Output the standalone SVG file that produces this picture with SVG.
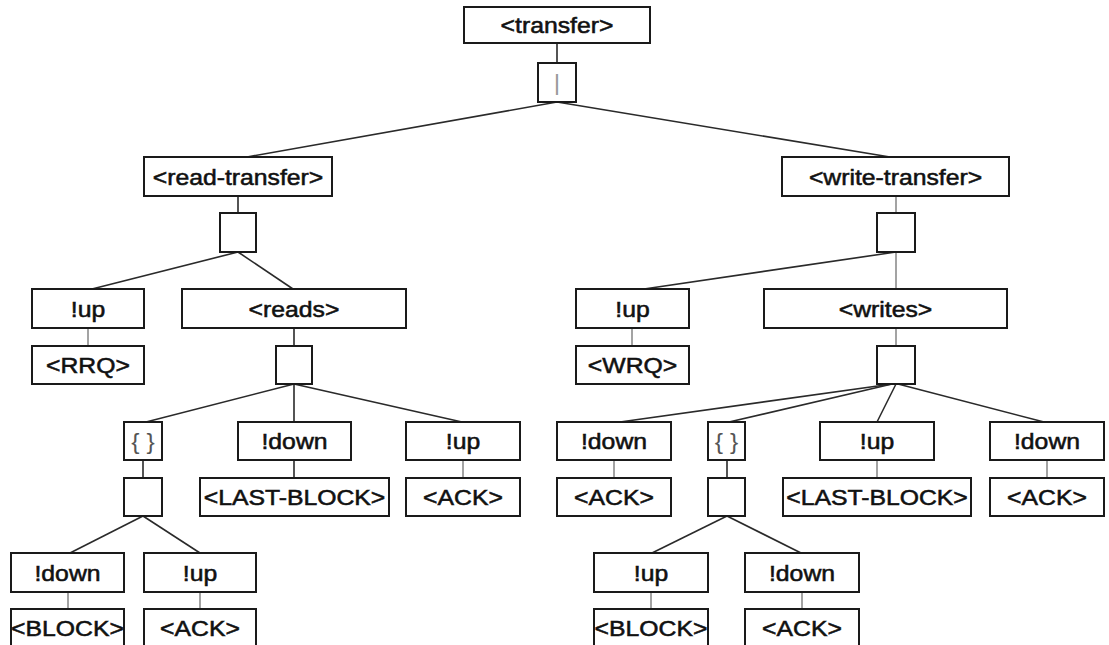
<svg xmlns="http://www.w3.org/2000/svg" width="1109" height="645" viewBox="0 0 1109 645">
<style>
.box{fill:#fff;stroke:#1a1a1a;stroke-width:2}
.t{font-family:"Liberation Sans",Arial,sans-serif;font-size:22.5px;fill:#111;stroke:#111;stroke-width:0.55;text-anchor:middle}
.g{fill:#999;stroke:none}
.b{fill:#555;stroke:none}
.d{stroke:#2a2a2a;stroke-width:1.6;fill:none}
.l{stroke:#999;stroke-width:1.8;fill:none}
</style>
<rect width="1109" height="645" fill="#fff"/>
<g id="connectors">
<line class="d" x1="557" y1="43" x2="557" y2="63"/>
<line class="d" x1="557" y1="102" x2="247" y2="157"/>
<line class="d" x1="557" y1="102" x2="890" y2="157"/>
<line class="d" x1="238" y1="196" x2="238" y2="213"/>
<line class="d" x1="238" y1="252" x2="92" y2="289"/>
<line class="d" x1="238" y1="252" x2="293" y2="289"/>
<line class="l" x1="88" y1="328" x2="88" y2="346"/>
<line class="d" x1="294" y1="328" x2="294" y2="346"/>
<line class="d" x1="294" y1="384" x2="146" y2="422"/>
<line class="d" x1="294" y1="384" x2="294" y2="422"/>
<line class="d" x1="294" y1="384" x2="462" y2="422"/>
<line class="d" x1="143" y1="460" x2="143" y2="478"/>
<line class="d" x1="294" y1="460" x2="294" y2="478"/>
<line class="l" x1="463" y1="460" x2="463" y2="478"/>
<line class="d" x1="143" y1="516" x2="70" y2="553"/>
<line class="d" x1="143" y1="516" x2="200" y2="553"/>
<line class="l" x1="68" y1="592" x2="68" y2="609"/>
<line class="l" x1="200" y1="592" x2="200" y2="609"/>
<line class="l" x1="896" y1="196" x2="896" y2="213"/>
<line class="d" x1="896" y1="252" x2="644" y2="289"/>
<line class="l" x1="896" y1="252" x2="896" y2="289"/>
<line class="l" x1="632" y1="328" x2="632" y2="346"/>
<line class="l" x1="896" y1="328" x2="896" y2="346"/>
<line class="d" x1="892" y1="384" x2="620" y2="422"/>
<line class="d" x1="892" y1="384" x2="729" y2="422"/>
<line class="d" x1="896" y1="384" x2="877" y2="422"/>
<line class="d" x1="898" y1="384" x2="1044" y2="422"/>
<line class="l" x1="614" y1="460" x2="614" y2="478"/>
<line class="d" x1="727" y1="460" x2="727" y2="478"/>
<line class="l" x1="877" y1="460" x2="877" y2="478"/>
<line class="l" x1="1047" y1="460" x2="1047" y2="478"/>
<line class="d" x1="727" y1="516" x2="652" y2="553"/>
<line class="d" x1="727" y1="516" x2="801" y2="553"/>
<line class="l" x1="651" y1="592" x2="651" y2="609"/>
<line class="l" x1="802" y1="592" x2="802" y2="609"/>
</g>
<g id="transfer"><rect class="box" x="464" y="7" width="186" height="36"/><text class="t" transform="translate(557,33) scale(1.1,1)">&lt;transfer&gt;</text></g>
<g id="alt"><rect class="box" x="538" y="63" width="38" height="39"/><text class="t g" transform="translate(557,90) scale(1.1,1)">|</text></g>
<g id="readTransfer"><rect class="box" x="144" y="157" width="188" height="39"/><text class="t" transform="translate(238,184.5) scale(1.1,1)">&lt;read-transfer&gt;</text></g>
<g id="rtSeq"><rect class="box" x="220" y="213" width="36" height="39"/></g>
<g id="rUp"><rect class="box" x="32" y="289" width="112" height="39"/><text class="t" transform="translate(88,316.5) scale(1.1,1)">!up</text></g>
<g id="reads"><rect class="box" x="182" y="289" width="224" height="39"/><text class="t" transform="translate(294,316.5) scale(1.1,1)">&lt;reads&gt;</text></g>
<g id="rrq"><rect class="box" x="32" y="346" width="112" height="38"/><text class="t" transform="translate(88,373) scale(1.1,1)">&lt;RRQ&gt;</text></g>
<g id="readsSeq"><rect class="box" x="276" y="346" width="36" height="38"/></g>
<g id="rLoop"><rect class="box" x="124" y="422" width="38" height="38"/><text class="t b" transform="translate(143,449) scale(1.1,1)">{ }</text></g>
<g id="rDown"><rect class="box" x="238" y="422" width="113" height="38"/><text class="t" transform="translate(294.5,449) scale(1.1,1)">!down</text></g>
<g id="rUp2"><rect class="box" x="406" y="422" width="114" height="38"/><text class="t" transform="translate(463,449) scale(1.1,1)">!up</text></g>
<g id="rLoopSeq"><rect class="box" x="124" y="478" width="38" height="38"/></g>
<g id="rLast"><rect class="box" x="200" y="478" width="189" height="38"/><text class="t" transform="translate(294.5,505) scale(1.1,1)">&lt;LAST-BLOCK&gt;</text></g>
<g id="rAck"><rect class="box" x="406" y="478" width="114" height="38"/><text class="t" transform="translate(463,505) scale(1.1,1)">&lt;ACK&gt;</text></g>
<g id="rDown2"><rect class="box" x="11" y="553" width="113" height="39"/><text class="t" transform="translate(67.5,580.5) scale(1.1,1)">!down</text></g>
<g id="rUp3"><rect class="box" x="144" y="553" width="112" height="39"/><text class="t" transform="translate(200,580.5) scale(1.1,1)">!up</text></g>
<g id="rBlock"><rect class="box" x="11" y="609" width="113" height="45"/><text class="t" transform="translate(67.5,636) scale(1.1,1)">&lt;BLOCK&gt;</text></g>
<g id="rAck2"><rect class="box" x="144" y="609" width="112" height="45"/><text class="t" transform="translate(200,636) scale(1.1,1)">&lt;ACK&gt;</text></g>
<g id="writeTransfer"><rect class="box" x="782" y="157" width="227" height="39"/><text class="t" transform="translate(895.5,184.5) scale(1.1,1)">&lt;write-transfer&gt;</text></g>
<g id="wtSeq"><rect class="box" x="877" y="213" width="38" height="39"/></g>
<g id="wUp"><rect class="box" x="576" y="289" width="113" height="39"/><text class="t" transform="translate(632.5,316.5) scale(1.1,1)">!up</text></g>
<g id="writes"><rect class="box" x="764" y="289" width="243" height="39"/><text class="t" transform="translate(885.5,316.5) scale(1.1,1)">&lt;writes&gt;</text></g>
<g id="wrq"><rect class="box" x="576" y="346" width="113" height="38"/><text class="t" transform="translate(632.5,373) scale(1.1,1)">&lt;WRQ&gt;</text></g>
<g id="writesSeq"><rect class="box" x="877" y="346" width="38" height="38"/></g>
<g id="wDown"><rect class="box" x="557" y="422" width="114" height="38"/><text class="t" transform="translate(614,449) scale(1.1,1)">!down</text></g>
<g id="wLoop"><rect class="box" x="708" y="422" width="37" height="38"/><text class="t b" transform="translate(726.5,449) scale(1.1,1)">{ }</text></g>
<g id="wUp2"><rect class="box" x="820" y="422" width="114" height="38"/><text class="t" transform="translate(877,449) scale(1.1,1)">!up</text></g>
<g id="wDown2"><rect class="box" x="990" y="422" width="114" height="38"/><text class="t" transform="translate(1047,449) scale(1.1,1)">!down</text></g>
<g id="wAck"><rect class="box" x="557" y="478" width="114" height="38"/><text class="t" transform="translate(614,505) scale(1.1,1)">&lt;ACK&gt;</text></g>
<g id="wLoopSeq"><rect class="box" x="708" y="478" width="37" height="38"/></g>
<g id="wLast"><rect class="box" x="783" y="478" width="188" height="38"/><text class="t" transform="translate(877,505) scale(1.1,1)">&lt;LAST-BLOCK&gt;</text></g>
<g id="wAck2"><rect class="box" x="990" y="478" width="114" height="38"/><text class="t" transform="translate(1047,505) scale(1.1,1)">&lt;ACK&gt;</text></g>
<g id="wUp3"><rect class="box" x="594" y="553" width="114" height="39"/><text class="t" transform="translate(651,580.5) scale(1.1,1)">!up</text></g>
<g id="wDown3"><rect class="box" x="745" y="553" width="114" height="39"/><text class="t" transform="translate(802,580.5) scale(1.1,1)">!down</text></g>
<g id="wBlock"><rect class="box" x="594" y="609" width="114" height="45"/><text class="t" transform="translate(651,636) scale(1.1,1)">&lt;BLOCK&gt;</text></g>
<g id="wAck3"><rect class="box" x="745" y="609" width="114" height="45"/><text class="t" transform="translate(802,636) scale(1.1,1)">&lt;ACK&gt;</text></g>
</svg>
